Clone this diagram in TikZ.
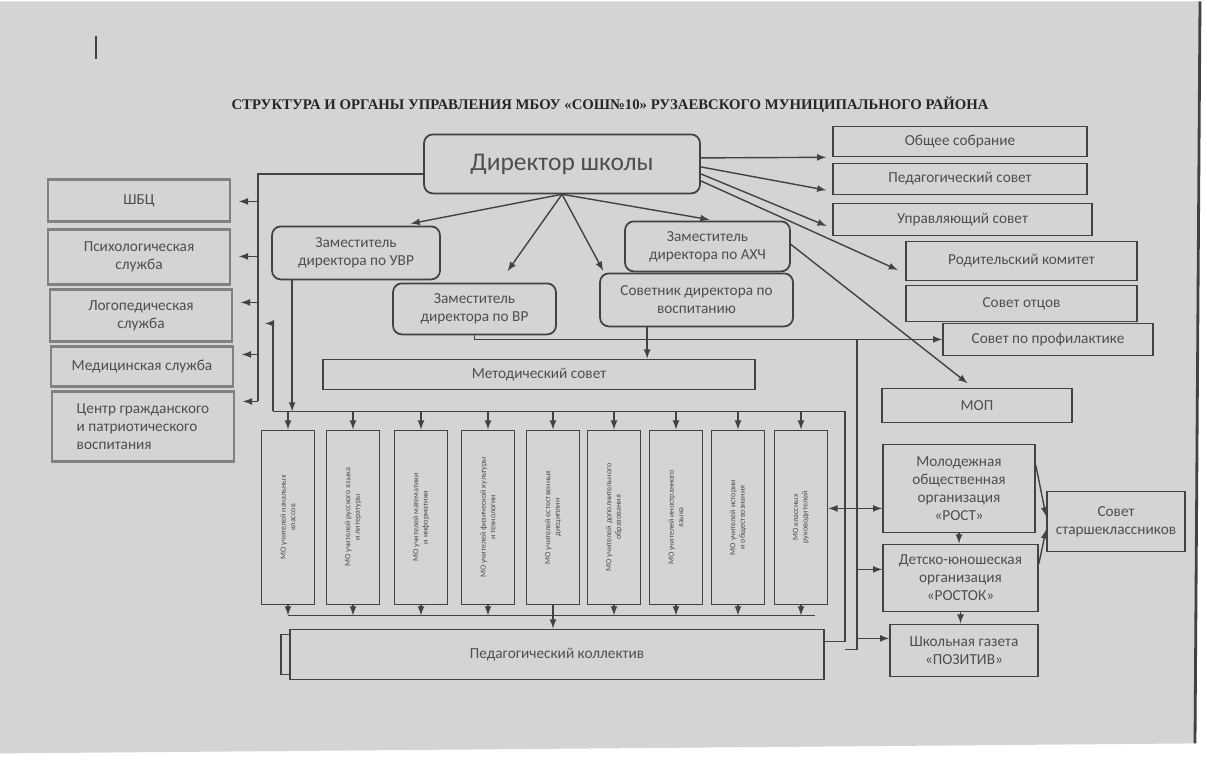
\documentclass[tikz,border=0pt]{standalone}
\usepackage{fontspec}
\setmainfont{Carlito}
\newfontfamily\titlefont{Liberation Serif}
\usepackage{graphicx}
\usetikzlibrary{calc}
\definecolor{paper}{RGB}{214,211,214}
\definecolor{linec}{RGB}{66,66,68}
\definecolor{txt}{RGB}{78,78,80}
\definecolor{lboxc}{RGB}{130,128,130}
\tikzset{
	box/.style   = {draw=linec, line width=1pt, fill=paper, text=txt, align=center,
		inner sep=2pt, font=\fontsize{8.7}{10.2}\selectfont},
	rbox/.style  = {box, rounded corners=5pt},
	lbox/.style  = {box, draw=lboxc, line width=1.6pt, minimum width=3.64cm},
	mobox/.style = {box, minimum width=1.06cm, minimum height=3.48cm, inner sep=0pt,
		font=\fontsize{4.6}{5.4}\selectfont}
}
\newcommand{\vtxt}[1]{\rotatebox{90}{\parbox{3cm}{\centering #1}}}

\begin{document}
\begin{tikzpicture}[x=0.02cm, y=-0.02cm, >=latex, line width=0.8pt, color=linec]
	% paper
	\fill[white] (0,0) rectangle (1207,764);
	\fill[paper] (0,0) -- (1200,0) -- (1195,742) -- (0,752) -- cycle;
	\draw[line width=1.6pt] (1200,0) -- (1195,742);
	\draw[line width=1pt, black!75] (96,35) -- (96,58);
	\node[font=\titlefont\bfseries\fontsize{8.4}{10}\selectfont, text=black!85] (title) at (610,103)
		{СТРУКТУРА И ОРГАНЫ УПРАВЛЕНИЯ МБОУ «СОШ№10» РУЗАЕВСКОГО МУНИЦИПАЛЬНОГО РАЙОНА};
	\draw
	node at (562,162.5) [rbox, minimum width=5.52cm, minimum height=1.18cm, font=\fontsize{14.5}{17}\selectfont] (dir) {Директор школы}
	node at (356,251.5) [rbox, minimum width=3.36cm, minimum height=1.06cm] (zuvr) {Заместитель\\ директора по УВР}
	node at (474.5,307.5) [rbox, minimum width=3.26cm, minimum height=1.02cm] (zvr) {Заместитель\\ директора по ВР}
	node at (707.5,245) [rbox, minimum width=3.3cm, minimum height=1cm] (zahch) {Заместитель\\ директора по АХЧ}
	node at (696.5,298.5) [rbox, minimum width=3.86cm, minimum height=1.06cm] (sov) {Советник директора по\\ воспитанию}
	node at (539,373) [box, minimum width=8.64cm, minimum height=0.6cm] (mets) {Методический совет}
	% left column
	node at (139,199) [lbox, minimum height=0.84cm] (shbc) {ШБЦ}
	node at (139,255.5) [lbox, minimum height=1.1cm] (psih) {Психологическая\\ служба}
	node at (141,314) [lbox, minimum height=1.04cm] (logo) {Логопедическая\\ служба}
	node at (142,365) [lbox, minimum height=0.8cm] (med) {Медицинская служба}
	node at (143,425) [lbox, minimum height=1.4cm, align=left] (cgp) {Центр гражданского\\ и патриотического\\ воспитания}
	% right column
	node at (960,140) [box, minimum width=5.08cm, minimum height=0.6cm] (obsh) {Общее собрание}
	node at (960,177.5) [box, minimum width=5.08cm, minimum height=0.62cm] (pedsov) {Педагогический совет}
	node at (962.5,218) [box, minimum width=5.18cm, minimum height=0.64cm] (upr) {Управляющий совет}
	node at (1021.5,259.5) [box, minimum width=4.62cm, minimum height=0.78cm] (rod) {Родительский комитет}
	node at (1021.5,302) [box, minimum width=4.62cm, minimum height=0.72cm] (otc) {Совет отцов}
	node at (1048,338) [box, minimum width=4.2cm, minimum height=0.64cm] (prof) {Совет по профилактике}
	node at (977,404) [box, minimum width=3.8cm, minimum height=0.68cm] (mop) {МОП}
	% methodical units
	node at (288,516) [mobox] (mo1) {\vtxt{МО учителей начальных\\ классов}}
	node at (353,516) [mobox] (mo2) {\vtxt{МО учителей русского языка\\ и литературы}}
	node at (421,516) [mobox] (mo3) {\vtxt{МО учителей математики\\ и информатики}}
	node at (488,516) [mobox] (mo4) {\vtxt{МО учителей физической культуры\\ и технологии}}
	node at (553,516) [mobox] (mo5) {\vtxt{МО учителей естественных\\ дисциплин}}
	node at (614,516) [mobox] (mo6) {\vtxt{МО учителей дополнительного\\ образования}}
	node at (676,516) [mobox] (mo7) {\vtxt{МО учителей иностранного\\ языка}}
	node at (738,516) [mobox] (mo8) {\vtxt{МО учителей истории\\ и обществознания}}
	node at (801,516) [mobox] (mo9) {\vtxt{МО классных\\ руководителей}}
	node at (548,653) [box, minimum width=10.68cm, minimum height=0.8cm] (pedb) {}
	node at (557,653) [box, minimum width=10.68cm, minimum height=1cm] (ped) {Педагогический коллектив}
	% youth
	node at (959,487) [box, minimum width=3.04cm, minimum height=1.76cm] (rost) {Молодежная\\ общественная\\ организация\\ «РОСТ»}
	node at (960.5,576.5) [box, minimum width=3.1cm, minimum height=1.34cm] (dyo) {Детско-юношеская\\ организация\\ «РОСТОК»}
	node at (964,649) [box, minimum width=2.96cm, minimum height=1.04cm] (gaz) {Школьная газета\\ «ПОЗИТИВ»}
	node at (1116,520) [box, minimum width=2.76cm, minimum height=1.2cm] (sst) {Совет\\ старшеклассников}
	;
	\coordinate (a1) at (258,200);
	\coordinate (a2) at (258,255);
	\coordinate (a3) at (258,301);
	\coordinate (a4) at (258,353);
	\coordinate (a5) at (258,400);
	\coordinate (tbl) at (273,410);
	\coordinate (tbr) at (845,410);
	\coordinate (hk) at (273,322);
	\coordinate (hk2) at (265,322);
	\coordinate (bbr) at (815,614);
	\coordinate (lp) at (845,640);
	\coordinate (rj) at (857,338);
	\coordinate (rb) at (857,648);
	\coordinate (j1) at (857,568);
	\coordinate (j2) at (857,637);
	\coordinate (u1) at ($(zuvr.south west)+(21,0)$);
	\coordinate (s1) at ($(sov.south west)+(48,0)$);
	\coordinate (rw) at ($(rost.west)+(0,20)$);
	% director down
	\draw[->, shorten >=0.2cm] (dir.south) -- ($(zuvr.north east)+(-40,0)$);
	\draw[->, shorten >=0.28cm] (dir.south) -- ($(zvr.north)+(25,0)$);
	\draw[->, shorten >=0.04cm] (dir.south) -- ($(sov.north west)+(5,0)$);
	\draw[->, shorten >=0.1cm] (dir.south) -- ($(zahch.north)+(7,0)$);
	% director right
	\draw[->, shorten >=0.12cm] ($(dir.east)+(0,-6)$) -- (obsh.south west);
	\draw[->, shorten >=0.12cm] ($(dir.east)+(0,3)$) -- ($(pedsov.south west)+(0,-4)$);
	\draw[->, shorten >=0.12cm] ($(dir.east)+(0,10)$) -- ($(upr.south west)+(0,-8)$);
	\draw[->, shorten >=0.16cm] ($(dir.east)+(0,17)$) -- ($(rod.south west)+(0,-8)$);
	\draw[->, shorten >=0.14cm] ($(zahch.east)+(0,-2)$) -- ($(mop.north)+(-4,0)$);
	% left bus
	\draw ($(dir.west)+(0,10)$) -| (a5);
	\draw[->, shorten >=0.15cm] (a1) -- (a1 -| shbc.east);
	\draw[->, shorten >=0.15cm] (a2) -- (a2 -| psih.east);
	\draw[->, shorten >=0.15cm] (a3) -- (a3 -| logo.east);
	\draw[->, shorten >=0.15cm] (a4) -- (a4 -| med.east);
	\draw[->, shorten >=0.15cm] (a5) -- (a5 -| cgp.east);
	% upper bus
	\draw[->] (u1) -- (u1 |- tbl);
	\draw[->] (tbl) -- (hk) -- (hk2);
	\draw (tbl) -- (tbr);
	\draw[->] (mo1.north |- tbl) -- (mo1.north);
	\draw[->] (mo2.north |- tbl) -- (mo2.north);
	\draw[->] (mo3.north |- tbl) -- (mo3.north);
	\draw[->] (mo4.north |- tbl) -- (mo4.north);
	\draw[->] (mo5.north |- tbl) -- (mo5.north);
	\draw[->] (mo6.north |- tbl) -- (mo6.north);
	\draw[->] (mo7.north |- tbl) -- (mo7.north);
	\draw[->] (mo8.north |- tbl) -- (mo8.north);
	\draw[->] (mo9.north |- tbl) -- (mo9.north);
	\draw[->] (s1) -- (s1 |- mets.north);
	% lower bus
	\draw (mo1.south |- bbr) -- (bbr);
	\draw[->] (mo1.south) -- (mo1.south |- bbr);
	\draw[->] (mo2.south) -- (mo2.south |- bbr);
	\draw[->] (mo3.south) -- (mo3.south |- bbr);
	\draw[->] (mo4.south) -- (mo4.south |- bbr);
	\draw[->] (mo5.south) -- (mo5.south |- ped.north);
	\draw[->] (mo6.south) -- (mo6.south |- bbr);
	\draw[->] (mo7.south) -- (mo7.south |- bbr);
	\draw[->] (mo8.south) -- (mo8.south |- bbr);
	\draw[->] (mo9.south) -- (mo9.south |- bbr);
	\draw (tbr) -- (lp) -- (lp -| ped.east);
	% right side
	\draw[->] (zvr.south) |- (prof.west);
	\draw (rj) -- (rb) -- (rb -| lp);
	\draw[->] (j1) -- (j1 -| dyo.west);
	\draw[->] (j2) -- (j2 -| gaz.west);
	\draw[<->] (rw -| mo9.east) -- (rw);
	\draw[->] (rost.south) -- (rost.south |- dyo.north);
	\draw[->] (dyo.south) -- (dyo.south |- gaz.north);
	\draw[->] ($(rost.north east)+(0,22)$) -- ($(sst.west)+(0,-5)$);
	\draw[->] ($(dyo.north east)+(0,20)$) -- ($(sst.west)+(0,8)$);
\end{tikzpicture}
\end{document}
